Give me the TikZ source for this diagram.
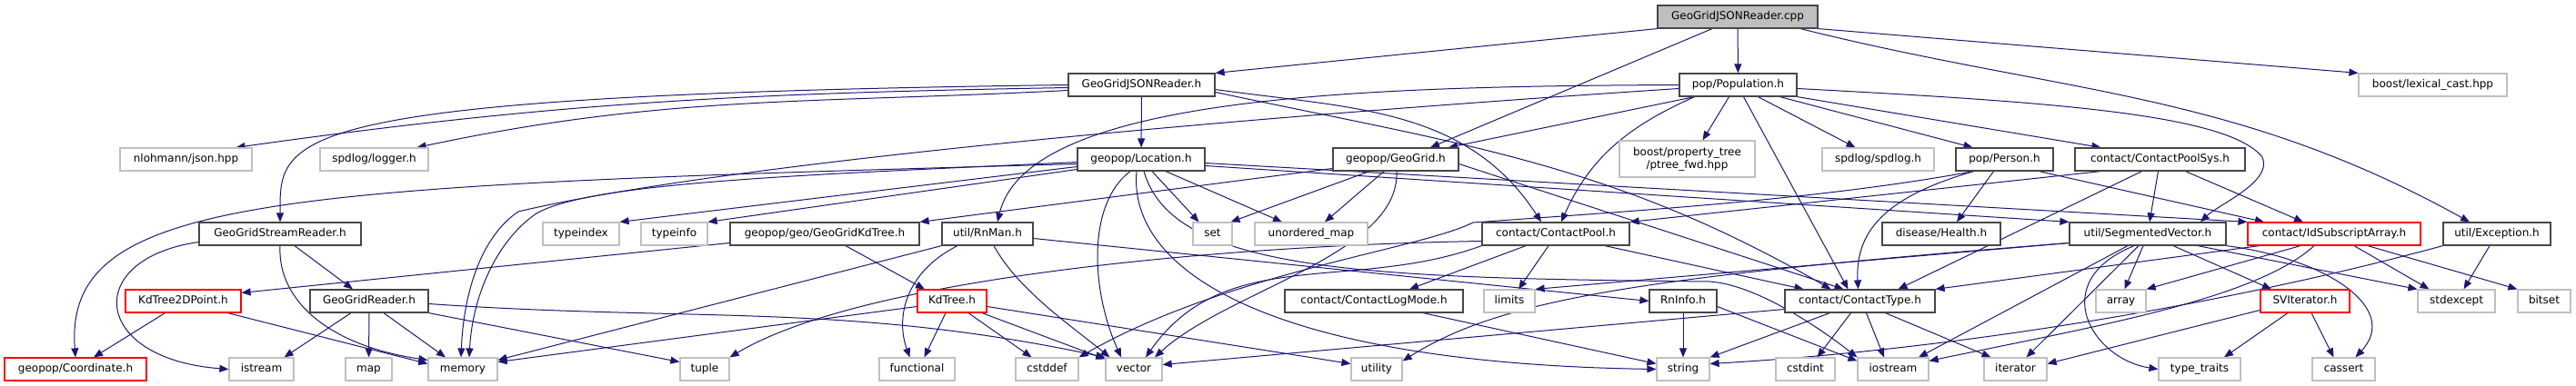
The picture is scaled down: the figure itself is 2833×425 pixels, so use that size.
\documentclass[tikz,border=0pt]{standalone}
\usepackage{fontspec}
\setmainfont{DejaVu Sans}
\usepackage{tikz}
\usetikzlibrary{arrows.meta, backgrounds}
\definecolor{edgeblue}{HTML}{191970}
\definecolor{sysgray}{HTML}{BFBFBF}

\begin{document}
\begin{tikzpicture}[
				x=1pt, y=-1pt,
				font=\fontsize{12}{14}\selectfont,
				>={Triangle[length=10pt,width=8pt]},
				file/.style={draw=black!72, line width=1.2pt, fill=white,
					inner xsep=2pt, inner ysep=2pt, minimum height=25pt,
					text height=9pt, text depth=3pt},
				hdr/.style={file},
				sys/.style={file, draw=sysgray},
				undoc/.style={file, draw=red},
				root/.style={file, fill=sysgray},
				inc/.style={->, draw=edgeblue, line width=1pt}
				]
				\useasboundingbox (0,0) rectangle (2833,425);
				
				%--- the source file ------------------------------------------------------
				\node[root, minimum width=176] (cpp) at (1911,18.5) {GeoGridJSONReader.cpp};
				
				%--- level 1 ---------------------------------------------------------------
				\node[hdr, minimum width=161] (jsonh) at (1255.5,93.5) {GeoGridJSONReader.h};
				\node[hdr, minimum width=129] (population) at (1911.5,93.5) {pop/Population.h};
				\node[sys, minimum width=163] (lexcast) at (2675.5,93.5) {boost/lexical\_cast.hpp};
				
				%--- level 2 ---------------------------------------------------------------
				\node[sys, minimum width=145] (nlohmann) at (204.5,175.5) {nlohmann/json.hpp};
				\node[sys, minimum width=119] (logger) at (411.5,175.5) {spdlog/logger.h};
				\node[hdr, minimum width=140] (location) at (1255,175.5) {geopop/Location.h};
				\node[hdr, minimum width=138] (geogrid) at (1535,175.5) {geopop/GeoGrid.h};
				\node[sys, minimum width=149, minimum height=40, align=center,
					text height=, text depth=] (ptree) at (1855.5,175) {boost/property\_tree\\/ptree\_fwd.hpp};
				\node[sys, minimum width=123] (spdlog) at (2065.5,175.5) {spdlog/spdlog.h};
				\node[hdr, minimum width=107] (person) at (2204.5,175.5) {pop/Person.h};
				\node[hdr, minimum width=187] (cpsys) at (2375.5,175.5) {contact/ContactPoolSys.h};
				
				%--- level 3 ---------------------------------------------------------------
				\node[hdr, minimum width=178] (streamreader) at (308,257.5) {GeoGridStreamReader.h};
				\node[sys, minimum width=84] (typeindex) at (639,257.5) {typeindex};
				\node[sys, minimum width=73] (typeinfo) at (741.5,257.5) {typeinfo};
				\node[hdr, minimum width=208] (kdtreegg) at (907,257.5) {geopop/geo/GeoGridKdTree.h};
				\node[hdr, minimum width=100] (rnman) at (1086,257.5) {util/RnMan.h};
				\node[sys, minimum width=43] (set) at (1333.5,257.5) {set};
				\node[sys, minimum width=124] (umap) at (1442,257.5) {unordered\_map};
				\node[hdr, minimum width=162] (cpool) at (1711,257.5) {contact/ContactPool.h};
				\node[hdr, minimum width=130] (health) at (2135,257.5) {disease/Health.h};
				\node[hdr, minimum width=172] (segvec) at (2362,257.5) {util/SegmentedVector.h};
				\node[undoc, minimum width=190] (idsub) at (2567,257.5) {contact/IdSubscriptArray.h};
				\node[hdr, minimum width=118] (exception) at (2746,257.5) {util/Exception.h};
				
				%--- level 4 ---------------------------------------------------------------
				\node[undoc, minimum width=127] (kd2d) at (201.5,331.5) {KdTree2DPoint.h};
				\node[hdr, minimum width=130] (reader) at (406,331.5) {GeoGridReader.h};
				\node[undoc, minimum width=76] (kdtree) at (1047,331.5) {KdTree.h};
				\node[hdr, minimum width=196] (logmode) at (1511,331.5) {contact/ContactLogMode.h};
				\node[sys, minimum width=56] (limits) at (1660,331.5) {limits};
				\node[hdr, minimum width=74] (rninfo) at (1851,331.5) {RnInfo.h};
				\node[hdr, minimum width=165] (ctype) at (2045.5,331.5) {contact/ContactType.h};
				\node[sys, minimum width=55] (array) at (2332.5,331.5) {array};
				\node[undoc, minimum width=98] (sviter) at (2535,331.5) {SVIterator.h};
				\node[sys, minimum width=85] (stdexcept) at (2701.5,331.5) {stdexcept};
				\node[sys, minimum width=58] (bitset) at (2798,331.5) {bitset};
				
				%--- level 5 ---------------------------------------------------------------
				\node[undoc, minimum width=156] (coord) at (83,406.5) {geopop/Coordinate.h};
				\node[sys, minimum width=71] (istream) at (287.5,406.5) {istream};
				\node[sys, minimum width=51] (map) at (405.5,406.5) {map};
				\node[sys, minimum width=76] (memory) at (509,406.5) {memory};
				\node[sys, minimum width=54] (tuple) at (775,406.5) {tuple};
				\node[sys, minimum width=83] (functional) at (1008.5,406.5) {functional};
				\node[sys, minimum width=69] (cstddef) at (1151.5,406.5) {cstddef};
				\node[sys, minimum width=62] (vector) at (1247,406.5) {vector};
				\node[sys, minimum width=56] (utility) at (1514,406.5) {utility};
				\node[sys, minimum width=58] (string) at (1851,406.5) {string};
				\node[sys, minimum width=65] (cstdint) at (1985.5,406.5) {cstdint};
				\node[sys, minimum width=78] (iostream) at (2082,406.5) {iostream};
				\node[sys, minimum width=69] (iterator) at (2216.5,406.5) {iterator};
				\node[sys, minimum width=90] (typetraits) at (2419,406.5) {type\_traits};
				\node[sys, minimum width=69] (cassert) at (2577.5,406.5) {cassert};
				
				\begin{scope}[on background layer]
				\fill[white] (0,0) rectangle (2833,425);
				
				%--- includes of the source file ------------------------------------------
				\draw[inc] (cpp.south west) -- (jsonh.north east);
				\draw[inc] (cpp) -- (population);
				\draw[inc] ([xshift=-28]cpp.south) -- ([xshift=38]geogrid.north);
				\draw[inc] (cpp.south east) -- (lexcast.north west);
				\draw[inc] ([xshift=69]cpp.south) to[out=-14,in=151] ([xshift=-30]exception.north);
				
				%--- GeoGridJSONReader.h ---------------------------------------------------
				\draw[inc] (jsonh.west) .. controls (300,105) and (308,150) .. (streamreader.north);
				\draw[inc] ([yshift=-3]jsonh.west) to[out=-179,in=8] ([xshift=55]nlohmann.north);
				\draw[inc] ([yshift=-6]jsonh.west) to[out=-177,in=12] ([xshift=47]logger.north);
				\draw[inc] (jsonh) -- (location);
				\draw[inc] ([yshift=-5]jsonh.east) to[out=-8,in=123] ([xshift=-16]cpool.north);
				\draw[inc] ([yshift=-8]jsonh.east) to[out=-12,in=150] ([xshift=-32]ctype.north);
				
				%--- pop/Population.h ------------------------------------------------------
				\draw[inc] (population.west) .. controls (1500,95) and (1130,105) .. ([xshift=11]rnman.north);
				\draw[inc] ([yshift=-4]population.west) .. controls (1200,140) and (750,190) .. (570,233)
				.. controls (530,260) and (510,320) .. ([xshift=-2]memory.north);
				\draw[inc] ([xshift=-48]population.south) -- ([xshift=58]geogrid.north);
				\draw[inc] ([xshift=-48]population.south) to[out=-156,in=66] ([xshift=6]cpool.north);
				\draw[inc] ([xshift=6]population.south) -- ([xshift=-13]ctype.north);
				\draw[inc] ([xshift=-10]population.south) -- ([xshift=17]ptree.north);
				\draw[inc] ([xshift=22]population.south) -- ([xshift=-25]spdlog.north);
				\draw[inc] ([xshift=46]population.south) -- ([xshift=-35]person.north);
				\draw[inc] (population.south east) -- ([xshift=-65]cpsys.north);
				\draw[inc] ([yshift=-4]population.east) .. controls (2250,112) and (2450,125) .. (2488,173)
				.. controls (2500,200) and (2440,225) .. ([xshift=58]segvec.north);
				
				%--- geopop/Location.h -----------------------------------------------------
				\draw[inc] ([yshift=-5]location.west) .. controls (300,205) and (70,215) .. (coord.north);
				\draw[inc] ([yshift=-3]location.west) .. controls (900,192) and (650,200) .. (590,235)
				.. controls (550,262) and (520,320) .. ([xshift=7]memory.north);
				\draw[inc] ([yshift=-8]location.west) -- (typeindex.north east);
				\draw[inc] ([yshift=-11]location.west) -- (typeinfo.north east);
				\draw[inc] ([xshift=12]location.south) -- ([xshift=-15]set.north);
				\draw[inc] ([xshift=27]location.south) -- ([xshift=-32]umap.north);
				\draw[inc] ([xshift=-12]location.south) .. controls (1195,225) and (1200,320) .. ([xshift=-14]vector.north);
				\draw[inc] ([xshift=-5]location.south) .. controls (1240,300) and (1400,400) .. (string.west);
				\draw[inc] ([xshift=3]location.south) .. controls (1290,300) and (1500,306) .. (1880,310)
				.. controls (1930,313) and (2000,360) .. (iostream.north west);
				\draw[inc] ([yshift=-4]location.east) -- (idsub.north west);
				\draw[inc] ([yshift=-7]location.east) -- (segvec.north west);
				
				%--- geopop/GeoGrid.h ------------------------------------------------------
				\draw[inc] ([yshift=-10]geogrid.west) -- (kdtreegg.north east);
				\draw[inc] ([xshift=-29]geogrid.south) -- ([xshift=20]set.north);
				\draw[inc] ([xshift=-13]geogrid.south) -- ([xshift=15]umap.north);
				\draw[inc] ([xshift=1]geogrid.south) .. controls (1540,280) and (1350,320) .. ([xshift=23]vector.north);
				\draw[inc] ([yshift=-5]geogrid.east) -- ([xshift=-18]ctype.north);
				
				%--- pop/Person.h ----------------------------------------------------------
				\draw[inc] ([xshift=-34]person.south) .. controls (2080,215) and (2040,250) .. ([xshift=-2]ctype.north);
				\draw[inc] ([xshift=-12]person.south) -- ([xshift=17]health.north);
				\draw[inc] ([xshift=38]person.south) -- ([xshift=-77]idsub.north);
				\draw[inc] ([xshift=-34]person.south) .. controls (2000,220) and (1800,232) .. (1620,245)
				.. controls (1560,275) and (1350,300) .. (cstddef.north east);
				
				%--- contact/ContactPoolSys.h ----------------------------------------------
				\draw[inc] ([xshift=-65]cpsys.south) -- (cpool.north east);
				\draw[inc] ([xshift=-2]cpsys.south) -- ([xshift=2]segvec.north);
				\draw[inc] ([xshift=28]cpsys.south) -- ([xshift=-34]idsub.north);
				\draw[inc] ([xshift=-20]cpsys.south) -- ([xshift=42]ctype.north);
				
				%--- readers and kd-trees --------------------------------------------------
				\draw[inc] ([xshift=16]streamreader.south) -- ([xshift=-18]reader.north);
				\draw[inc] ([yshift=-9]streamreader.west) .. controls (90,285) and (100,395) .. (istream.west);
				\draw[inc] (streamreader.south) .. controls (305,330) and (360,380) .. ([yshift=10]memory.west);
				\draw[inc] ([xshift=-20]kd2d.south) -- ([xshift=20]coord.north);
				\draw[inc] ([xshift=49]kd2d.south) -- ([yshift=6]memory.west);
				\draw[inc] ([yshift=-10]kdtreegg.west) -- ([yshift=-4]kd2d.north east);
				\draw[inc] ([xshift=23]kdtreegg.south) -- ([xshift=-30]kdtree.north);
				\draw[inc] ([xshift=-20]reader.south) -- ([xshift=25]istream.north);
				\draw[inc] (reader) -- (map);
				\draw[inc] ([xshift=16]reader.south) -- ([xshift=-19]memory.north);
				\draw[inc] (reader.south east) -- ([yshift=8]tuple.west);
				\draw[inc] ([yshift=-3]reader.east) to[out=-4,in=168] (vector.north west);
				\draw[inc] ([yshift=-6]kdtree.west) -- ([yshift=8]memory.east);
				\draw[inc] ([xshift=-7]kdtree.south) -- ([xshift=8]functional.north);
				\draw[inc] ([xshift=18]kdtree.south) -- ([xshift=-17]cstddef.north);
				\draw[inc] ([xshift=33]kdtree.south) -- ([yshift=-2]vector.north west);
				\draw[inc] ([yshift=-6]kdtree.east) -- ([yshift=6]utility.west);
				
				%--- util/RnMan.h ----------------------------------------------------------
				\draw[inc] (rnman.south west) -- ([yshift=-3]memory.north east);
				\draw[inc] ([xshift=-33]rnman.south) .. controls (995,300) and (985,350) .. ([xshift=-8]functional.north);
				\draw[inc] ([xshift=7]rnman.south) .. controls (1120,320) and (1180,360) .. ([xshift=5]vector.north west);
				\draw[inc] ([yshift=-5]rnman.east) -- (rninfo.west);
				\draw[inc] (rninfo) -- (string);
				\draw[inc] ([yshift=-6]rninfo.east) -- ([yshift=-4]iostream.north west);
				
				%--- contact/ContactPool.h -------------------------------------------------
				\draw[inc] ([xshift=-33]cpool.south) -- ([xshift=39]logmode.north);
				\draw[inc] ([xshift=-8]cpool.south) -- ([xshift=10]limits.north);
				\draw[inc] ([xshift=54]cpool.south) -- ([xshift=-62]ctype.north);
				\draw[inc] ([yshift=-8]cpool.west) .. controls (1350,270) and (950,305) .. (tuple.north east);
				\draw[inc] (cpool.south west) to[out=-160,in=55] ([xshift=13]vector.north);
				\draw[inc] ([xshift=54]logmode.south) -- ([yshift=6]string.west);
				
				%--- contact/ContactType.h -------------------------------------------------
				\draw[inc] ([xshift=-33]ctype.south) -- (string.north east);
				\draw[inc] ([xshift=-10]ctype.south) -- ([xshift=13]cstdint.north);
				\draw[inc] ([xshift=7]ctype.south) -- ([xshift=-10]iostream.north);
				\draw[inc] ([xshift=28]ctype.south) -- ([xshift=-27]iterator.north);
				\draw[inc] ([yshift=-9]ctype.west) -- ([yshift=5]vector.east);
				
				%--- util/SegmentedVector.h ------------------------------------------------
				\draw[inc] ([yshift=-10]segvec.west) -- (limits.north east);
				\draw[inc] ([yshift=-10]segvec.west) .. controls (1800,305) and (1650,330) .. ([yshift=-4]utility.north east);
				\draw[inc] ([xshift=-22]segvec.south) -- ([xshift=28]iostream.north);
				\draw[inc] ([xshift=-10]segvec.south) -- ([xshift=12]iterator.north);
				\draw[inc] ([xshift=-5]segvec.south) -- ([xshift=4]array.north);
				\draw[inc] ([xshift=-15]segvec.south) .. controls (2250,310) and (2300,395) .. (typetraits.west);
				\draw[inc] ([xshift=28]segvec.south) -- ([xshift=-37]sviter.north);
				\draw[inc] ([xshift=55]segvec.south) -- (stdexcept.north west);
				\draw[inc] (segvec.south east) .. controls (2560,285) and (2640,340) .. ([xshift=13]cassert.north);
				
				%--- contact/IdSubscriptArray.h and the rest -------------------------------
				\draw[inc] ([xshift=-37]idsub.south) -- (array.north east);
				\draw[inc] ([xshift=22]idsub.south) -- ([xshift=-30]stdexcept.north);
				\draw[inc] ([xshift=37]idsub.south) -- (bitset.north west);
				\draw[inc] ([xshift=-82]idsub.south) -- (ctype.north east);
				\draw[inc] ([xshift=-22]idsub.south) .. controls (2480,330) and (2300,360) .. ([yshift=-4]iostream.north east);
				\draw[inc] ([xshift=-8]exception.south) -- ([xshift=8]stdexcept.north);
				\draw[inc] (exception.south west) .. controls (2450,335) and (2150,385) .. ([yshift=6]string.east);
				\draw[inc] ([yshift=-10]sviter.west) -- ([yshift=6]iterator.east);
				\draw[inc] ([xshift=-19]sviter.south) -- ([xshift=27]typetraits.north);
				\draw[inc] ([xshift=7]sviter.south) -- ([xshift=-11]cassert.north);
				\end{scope}
			\end{tikzpicture}
\end{document}
